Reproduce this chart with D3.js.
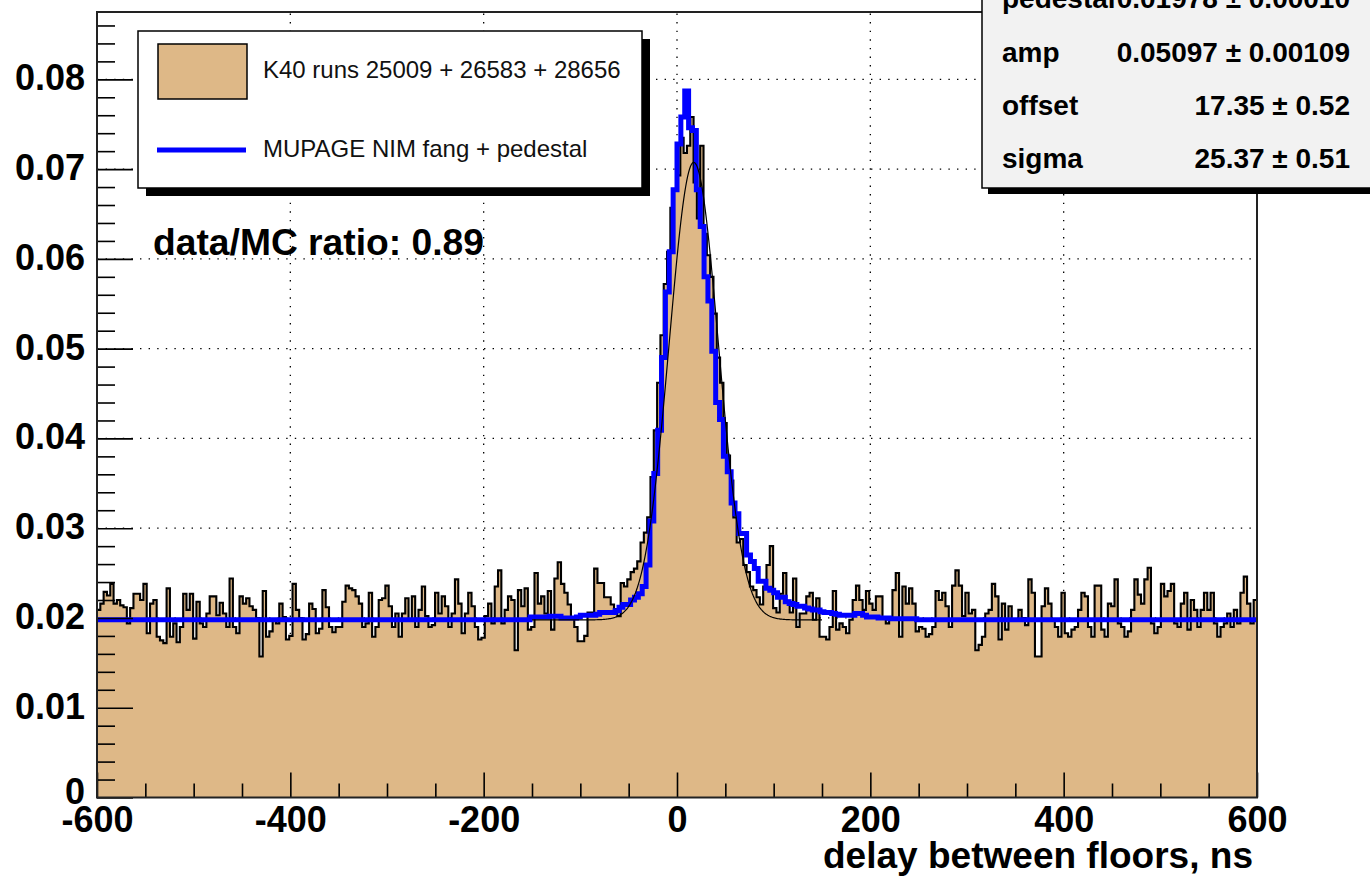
<!DOCTYPE html>
<html>
<head>
<meta charset="utf-8">
<script src="https://cdn.jsdelivr.net/npm/d3@7"></script>
<style>
  html, body { margin: 0; padding: 0; background: #ffffff; }
  svg { display: block; font-family: "Liberation Sans", Arial, Helvetica, sans-serif; }
</style>
</head>
<body>
<svg id="chart" width="1370" height="878"></svg>
<script>
// ---------------- data ----------------
const xRange = [-600, 600];
const yRange = [0, 0.0875];
const xMajorTicks = [-600, -400, -200, 0, 200, 400, 600];
const yMajorTicks = [0, 0.01, 0.02, 0.03, 0.04, 0.05, 0.06, 0.07, 0.08];
const xGridLines = [-400, -200, 0, 200, 400];
const yGridLines = [0.01, 0.02, 0.03, 0.04, 0.05, 0.06, 0.07, 0.08];

// K40 coincidence rate per bin (350 equal bins across -600..600 ns), left to right
const k40RateA = [
  0.0209, 0.0216, 0.0229, 0.0225, 0.0238, 0.0216, 0.0220, 0.0214, 0.0212, 0.0194,
  0.0211, 0.0227, 0.0227, 0.0220, 0.0238, 0.0183, 0.0216, 0.0220, 0.0179, 0.0175,
  0.0172, 0.0233, 0.0179, 0.0194, 0.0173, 0.0190, 0.0227, 0.0209, 0.0227, 0.0177,
  0.0218, 0.0194, 0.0190, 0.0205, 0.0224, 0.0224, 0.0203, 0.0217, 0.0205, 0.0190,
  0.0244, 0.0190, 0.0183, 0.0224, 0.0216, 0.0222, 0.0213, 0.0209, 0.0200, 0.0157,
  0.0230, 0.0179, 0.0185, 0.0198, 0.0194, 0.0216, 0.0201, 0.0176, 0.0180, 0.0238,
  0.0209, 0.0200, 0.0176, 0.0182, 0.0216, 0.0210, 0.0183, 0.0188, 0.0231, 0.0212,
  0.0190, 0.0184
];
const k40RateB = [
  0.0190, 0.0190, 0.0218, 0.0236, 0.0233, 0.0231, 0.0224, 0.0216, 0.0190, 0.0194,
  0.0228, 0.0179, 0.0190, 0.0220, 0.0222, 0.0236, 0.0213, 0.0190, 0.0205, 0.0179,
  0.0205, 0.0222, 0.0198, 0.0224, 0.0190, 0.0209, 0.0235, 0.0202, 0.0190, 0.0192,
  0.0228, 0.0205, 0.0224, 0.0213, 0.0190, 0.0205, 0.0243, 0.0216, 0.0183, 0.0205,
  0.0228, 0.0213, 0.0190, 0.0176, 0.0178, 0.0202, 0.0216, 0.0194, 0.0235, 0.0253,
  0.0194, 0.0209, 0.0224, 0.0220, 0.0164, 0.0231, 0.0213, 0.0233, 0.0187, 0.0190,
  0.0250, 0.0216, 0.0224, 0.0205, 0.0230, 0.0187, 0.0244, 0.0262, 0.0238
];
const k40RateC = [
  0.0228, 0.0215, 0.0200, 0.0190, 0.0174, 0.0174, 0.0180, 0.0206, 0.0206, 0.0255,
  0.0239, 0.0239, 0.0223, 0.0223, 0.0215, 0.0210, 0.0202, 0.0239, 0.0235, 0.0243,
  0.0251, 0.0255, 0.0263, 0.0284, 0.0295, 0.0312, 0.0357, 0.0409, 0.0462, 0.0515,
  0.0572, 0.0608, 0.0657, 0.0677, 0.0693, 0.0735, 0.0718, 0.0726, 0.0758, 0.0685,
  0.0645, 0.0726, 0.0628, 0.0604, 0.0580, 0.0539, 0.0490, 0.0462, 0.0417, 0.0381,
  0.0353, 0.0312, 0.0284, 0.0288, 0.0259, 0.0251, 0.0235, 0.0231, 0.0223, 0.0215,
  0.0235, 0.0259, 0.0280, 0.0211, 0.0206, 0.0227, 0.0250, 0.0219, 0.0206
];
const k40RateD = [
  0.0244, 0.0190, 0.0205, 0.0205, 0.0224, 0.0228, 0.0198, 0.0222, 0.0179, 0.0179,
  0.0176, 0.0190, 0.0230, 0.0187, 0.0194, 0.0190, 0.0183, 0.0198, 0.0220, 0.0236,
  0.0220, 0.0209, 0.0230, 0.0216, 0.0209, 0.0224, 0.0224, 0.0200, 0.0194, 0.0198,
  0.0231, 0.0250, 0.0179, 0.0235, 0.0216, 0.0233, 0.0216, 0.0185, 0.0190, 0.0188,
  0.0179, 0.0182, 0.0190, 0.0230, 0.0220, 0.0228, 0.0213, 0.0190, 0.0236, 0.0253,
  0.0236, 0.0202, 0.0228, 0.0205, 0.0209, 0.0164, 0.0170, 0.0179, 0.0205, 0.0209,
  0.0238, 0.0224, 0.0176, 0.0216, 0.0187, 0.0213, 0.0198, 0.0198
];
const k40RateE = [
  0.0209, 0.0200, 0.0192, 0.0243, 0.0228, 0.0157, 0.0157, 0.0213, 0.0233, 0.0216,
  0.0198, 0.0190, 0.0179, 0.0228, 0.0183, 0.0179, 0.0187, 0.0190, 0.0209, 0.0228,
  0.0224, 0.0190, 0.0179, 0.0236, 0.0236, 0.0187, 0.0179, 0.0216, 0.0213, 0.0243,
  0.0194, 0.0190, 0.0179, 0.0185, 0.0209, 0.0243, 0.0226, 0.0216, 0.0243, 0.0256,
  0.0194, 0.0183, 0.0190, 0.0238, 0.0224, 0.0230, 0.0238, 0.0194, 0.0190, 0.0216,
  0.0228, 0.0187, 0.0220, 0.0209, 0.0190, 0.0209, 0.0228, 0.0209, 0.0228, 0.0194,
  0.0179, 0.0190, 0.0194, 0.0205, 0.0190, 0.0209, 0.0194, 0.0228, 0.0246, 0.0216,
  0.0194, 0.0220
];
const k40Rate = [].concat(k40RateA, k40RateB, k40RateC, k40RateD, k40RateE);

// MUPAGE simulation: flat pedestal with the peak region in 4 ns bins from -152 ns
const mupagePedestal = 0.0198;
const mupageBinWidth = 4;
const mupageCoreStart = -152;
const mupageCore = [
  0.0201, 0.0201, 0.0201, 0.0201, 0.0201, 0.0202, 0.0202, 0.0202, 0.0200, 0.0200,
  0.0200, 0.0200, 0.0201, 0.0203, 0.0203, 0.0203, 0.0203, 0.0204, 0.0206, 0.0206,
  0.0206, 0.0206, 0.0208, 0.0212, 0.0215, 0.0215, 0.0220, 0.0223, 0.0227, 0.0235,
  0.0259, 0.0308, 0.0361, 0.0409, 0.0490, 0.0563, 0.0608, 0.0677, 0.0728, 0.0758,
  0.0787, 0.0746, 0.0743, 0.0677, 0.0636, 0.0580, 0.0553, 0.0497, 0.0440, 0.0421,
  0.0380, 0.0363, 0.0328, 0.0316, 0.0294, 0.0294, 0.0270, 0.0263, 0.0255, 0.0241,
  0.0241, 0.0233, 0.0231, 0.0228, 0.0223, 0.0223, 0.0218, 0.0216, 0.0215, 0.0213,
  0.0213, 0.0211, 0.0210, 0.0209, 0.0209, 0.0207, 0.0206, 0.0206, 0.0205, 0.0204,
  0.0203, 0.0203, 0.0203, 0.0203, 0.0205, 0.0205, 0.0203, 0.0201, 0.0201, 0.0201,
  0.0200, 0.0200, 0.0200, 0.0199, 0.0199, 0.0199, 0.0199, 0.0199, 0.0199, 0.0199
];

// Gaussian + pedestal fit
const fitNames = ["pedestal", "amp", "offset", "sigma"];
const fitValueText = ["0.01978", "0.05097", "17.35", "25.37"];
const fitErrorText = ["0.00010", "0.00109", "0.52", "0.51"];
const fitRange = [-150, 150];

const legendLabels = ["K40 runs 25009 + 26583 + 28656", "MUPAGE NIM fang + pedestal"];
const ratioLabel = "data/MC ratio: 0.89";
const xTitle = "delay between floors, ns";

// ---------------- drawing ----------------
const TAN = "#deb887";
const svg = d3.select("#chart");
const plot = { left: 97, right: 1257, top: 12, bottom: 797.5 };

const x = d3.scaleLinear().domain(xRange).range([plot.left, plot.right]);
const y = d3.scaleLinear().domain(yRange).range([plot.bottom, plot.top]);

// dotted grid
const grid = svg.append("g").attr("stroke", "#000").attr("stroke-width", 1.3)
  .attr("stroke-dasharray", "1.4 7.2");
grid.selectAll("line.gx").data(xGridLines).join("line")
  .attr("x1", d => x(d)).attr("x2", d => x(d))
  .attr("y1", plot.bottom).attr("y2", plot.top);
grid.selectAll("line.gy").data(yGridLines).join("line")
  .attr("x1", plot.left).attr("x2", plot.right)
  .attr("y1", d => y(d)).attr("y2", d => y(d));

// K40 histogram (filled steps + outline)
const k40Width = (xRange[1] - xRange[0]) / k40Rate.length;
const k40Steps = k40Rate.map((v, i) => ({ x: xRange[0] + i * k40Width, v }));
k40Steps.push({ x: xRange[1], v: k40Rate[k40Rate.length - 1] });

svg.append("path")
  .datum(k40Steps)
  .attr("fill", TAN)
  .attr("d", d3.area().curve(d3.curveStepAfter)
    .x(d => x(d.x)).y0(y(0)).y1(d => y(d.v)));

svg.append("path")
  .datum(k40Steps)
  .attr("fill", "none")
  .attr("stroke", "#000")
  .attr("stroke-width", 2.1)
  .attr("d", d3.line().curve(d3.curveStepAfter).x(d => x(d.x)).y(d => y(d.v)));

// MUPAGE histogram
const mupageBins = [];
for (let lo = xRange[0]; lo < xRange[1]; lo += mupageBinWidth) {
  const k = Math.round((lo - mupageCoreStart) / mupageBinWidth);
  const v = (k >= 0 && k < mupageCore.length) ? mupageCore[k] : mupagePedestal;
  mupageBins.push({ x: lo, v });
}
mupageBins.push({ x: xRange[1], v: mupagePedestal });
svg.append("path")
  .datum(mupageBins)
  .attr("fill", "none")
  .attr("stroke", "#0000ff")
  .attr("stroke-width", 5)
  .attr("stroke-linejoin", "miter")
  .attr("d", d3.line().curve(d3.curveStepAfter).x(d => x(d.x)).y(d => y(d.v)));

// fit curve from the fitted parameters
const [pPed, pAmp, pOff, pSig] = fitValueText.map(Number);
const fitPts = d3.range(fitRange[0], fitRange[1] + 0.5, 1)
  .map(t => ({ x: t, v: pPed + pAmp * Math.exp(-0.5 * Math.pow((t - pOff) / pSig, 2)) }));
svg.append("path")
  .datum(fitPts)
  .attr("fill", "none")
  .attr("stroke", "#000")
  .attr("stroke-width", 1.2)
  .attr("d", d3.line().x(d => x(d.x)).y(d => y(d.v)));

// axes (ticks pointing into the frame)
const font = "Liberation Sans, Arial, sans-serif";
const yAxis = svg.append("g").attr("transform", `translate(${plot.left},0)`)
  .call(d3.axisLeft(y).tickValues(yMajorTicks).tickSize(-36).tickPadding(12)
    .tickFormat(d => d === 0 ? "0" : d.toFixed(2)));
yAxis.call(g => g.select(".domain").remove());
yAxis.selectAll("line").attr("stroke", "#000").attr("stroke-width", 1.6);
yAxis.selectAll("text").attr("font-size", 36).attr("font-weight", "bold")
  .attr("fill", "#000").attr("font-family", font)
  .attr("dy", d => d === 0 ? "0.16em" : "0.29em");

const yMinor = d3.range(0.002, 0.0875, 0.002).filter(v => Math.abs(v / 0.01 - Math.round(v / 0.01)) > 1e-6);
svg.append("g").attr("transform", `translate(${plot.left},0)`)
  .call(d3.axisLeft(y).tickValues(yMinor).tickSize(-18).tickFormat(""))
  .call(g => g.select(".domain").remove())
  .selectAll("line").attr("stroke", "#000").attr("stroke-width", 1.6);

const xAxis = svg.append("g").attr("transform", `translate(0,${plot.bottom})`)
  .call(d3.axisBottom(x).tickValues(xMajorTicks).tickSize(-25).tickPadding(9)
    .tickFormat(d => String(d)));
xAxis.call(g => g.select(".domain").remove());
xAxis.selectAll("line").attr("stroke", "#000").attr("stroke-width", 1.6);
xAxis.selectAll("text").attr("font-size", 36).attr("font-weight", "bold")
  .attr("fill", "#000").attr("font-family", font);

const xMinor = d3.range(-550, 600, 50).filter(v => v % 200 !== 0);
svg.append("g").attr("transform", `translate(0,${plot.bottom})`)
  .call(d3.axisBottom(x).tickValues(xMinor).tickSize(-14).tickFormat(""))
  .call(g => g.select(".domain").remove())
  .selectAll("line").attr("stroke", "#000").attr("stroke-width", 1.6);

// frame
svg.append("rect")
  .attr("x", plot.left).attr("y", plot.top)
  .attr("width", plot.right - plot.left).attr("height", plot.bottom - plot.top)
  .attr("fill", "none").attr("stroke", "#222").attr("stroke-width", 2);

// axis title
svg.append("text")
  .attr("x", 1253).attr("y", 868)
  .attr("text-anchor", "end")
  .attr("font-size", 36).attr("font-weight", "bold")
  .attr("textLength", 430).attr("lengthAdjust", "spacingAndGlyphs")
  .text(xTitle);

// ratio annotation
svg.append("text")
  .attr("x", 153).attr("y", 255)
  .attr("font-size", 37).attr("font-weight", "bold")
  .attr("textLength", 331).attr("lengthAdjust", "spacingAndGlyphs")
  .text(ratioLabel);

// legend with drop shadow
const leg = { x: 138, y: 31, w: 504, h: 157 };
svg.append("rect").attr("x", leg.x + 8).attr("y", leg.y + 8)
  .attr("width", leg.w).attr("height", leg.h).attr("fill", "#000");
svg.append("rect").attr("x", leg.x).attr("y", leg.y)
  .attr("width", leg.w).attr("height", leg.h)
  .attr("fill", "#fff").attr("stroke", "#000").attr("stroke-width", 1.5);
svg.append("rect").attr("x", 158).attr("y", 44).attr("width", 89).attr("height", 55)
  .attr("fill", TAN).attr("stroke", "#000").attr("stroke-width", 1.5);
svg.append("line").attr("x1", 157).attr("x2", 246).attr("y1", 150).attr("y2", 150)
  .attr("stroke", "#0000ff").attr("stroke-width", 5);
svg.selectAll("text.leg").data(legendLabels).join("text")
  .attr("class", "leg")
  .attr("x", 263).attr("y", (d, i) => i === 0 ? 78 : 157)
  .attr("font-size", 24).attr("fill", "#111")
  .text(d => d);

// fit statistics box with drop shadow
const st = { x: 982, y: -70, w: 420, h: 258 };
svg.append("rect").attr("x", st.x + 6).attr("y", st.y + 6)
  .attr("width", st.w).attr("height", st.h).attr("fill", "#000");
svg.append("rect").attr("x", st.x).attr("y", st.y)
  .attr("width", st.w).attr("height", st.h)
  .attr("fill", "#f2f2f2").attr("stroke", "#000").attr("stroke-width", 1.5);
const rowY = [8, 61.5, 115, 168];
const stats = svg.append("g").attr("font-size", 28).attr("font-weight", "bold").attr("fill", "#000");
stats.selectAll("text.nm").data(fitNames).join("text")
  .attr("class", "nm").attr("x", 1002).attr("y", (d, i) => rowY[i]).text(d => d);
stats.selectAll("text.val").data(fitValueText).join("text")
  .attr("class", "val").attr("x", 1350).attr("y", (d, i) => rowY[i])
  .attr("text-anchor", "end")
  .text((d, i) => `${d} \u00b1 ${fitErrorText[i]}`);
</script>
</body>
</html>
